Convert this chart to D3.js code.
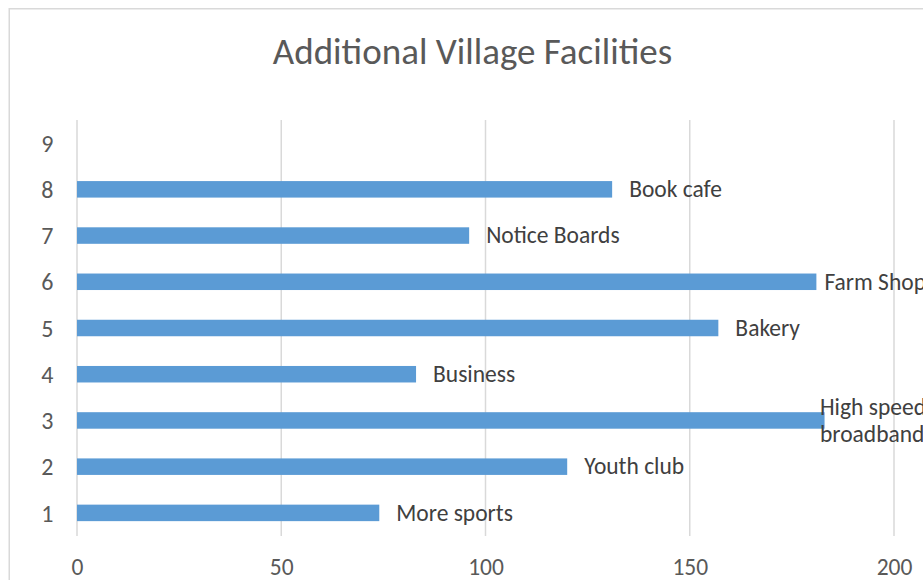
<!DOCTYPE html>
<html>
<head>
<meta charset="utf-8">
<script src="https://cdn.jsdelivr.net/npm/d3@7"></script>
<style>
  html, body { margin: 0; padding: 0; background: #ffffff; }
  svg { display: block; }
  text { font-family: Calibri, Carlito, Lato, "Open Sans", sans-serif; }
</style>
</head>
<body>
<svg id="chart" width="923" height="580"></svg>
<script>
// Category slots on the vertical axis (slot 9 is empty)
const categories = ["1", "2", "3", "4", "5", "6", "7", "8", "9"];
// Number of responses for each facility
const values = [74, 120, 183, 83, 157, 181, 96, 131, null];
// Facility names shown beside the bars
const facilityNames = ["More sports", "Youth club", "High speed broadband", "Business",
                       "Bakery", "Farm Shop", "Notice Boards", "Book cafe", ""];
// Value axis ticks
const xTicks = [0, 50, 100, 150, 200];
const chartTitle = "Additional Village Facilities";

const rows = categories.map((c, i) => ({ cat: c, value: values[i], name: facilityNames[i] }));

const plot = { left: 77, right: 894, top: 120, bottom: 536 };
const chartRight = 926;        // right edge of the chart area (labels are kept inside it)
const labelGap = 17;
const wrapWidth = 180;
const fontStack = "Calibri, Carlito, Lato, 'Open Sans', sans-serif";

const svg = d3.select("#chart");

// chart area frame
svg.append("rect")
  .attr("x", 9.25).attr("y", 8.75)
  .attr("width", 1000).attr("height", 1000)
  .attr("fill", "#ffffff")
  .attr("stroke", "#d9d9d9").attr("stroke-width", 1.5);

const x = d3.scaleLinear().domain([0, 200]).range([plot.left, plot.right]);
const y = d3.scaleBand().domain(categories)
  .range([plot.bottom, plot.top])
  .paddingInner(0.643).paddingOuter(0.3215);

// title
svg.append("text")
  .attr("x", 472.5).attr("y", 64)
  .attr("text-anchor", "middle")
  .attr("fill", "#595959")
  .style("font-size", "37px")
  .text(chartTitle);

// vertical gridlines
svg.append("g")
  .selectAll("line")
  .data(xTicks)
  .join("line")
  .attr("x1", d => x(d)).attr("x2", d => x(d))
  .attr("y1", plot.top).attr("y2", plot.bottom)
  .attr("stroke", "#d9d9d9").attr("stroke-width", 1.5);

// x axis labels
const xAxis = d3.axisBottom(x).tickValues(xTicks).tickSize(0).tickPadding(0);
const gx = svg.append("g")
  .attr("transform", `translate(0,${plot.bottom + 30.5})`)
  .call(xAxis);
gx.select(".domain").remove();
gx.selectAll("text")
  .attr("fill", "#595959")
  .attr("y", 0)
  .attr("dy", "0.36em")
  .style("font-size", "23.5px")
  .style("font-family", fontStack);

// y axis labels
const yAxis = d3.axisLeft(y).tickSize(0).tickPadding(0);
const gy = svg.append("g")
  .attr("transform", `translate(${plot.left - 23.5},0)`)
  .call(yAxis);
gy.select(".domain").remove();
gy.selectAll("text")
  .attr("fill", "#595959")
  .attr("dy", "0.36em")
  .style("font-size", "24px")
  .style("font-family", fontStack);

// bars
const withValue = rows.filter(d => d.value != null);
svg.append("g")
  .selectAll("rect")
  .data(withValue)
  .join("rect")
  .attr("x", x(0))
  .attr("y", d => y(d.cat))
  .attr("width", d => x(d.value) - x(0))
  .attr("height", y.bandwidth())
  .attr("fill", "#5b9bd5");

// data labels (facility names), kept inside the chart area
const lg = svg.append("g");
withValue.forEach(d => {
  const cy = y(d.cat) + y.bandwidth() / 2;
  const t = lg.append("text")
    .attr("fill", "#404040")
    .style("font-size", "23.5px")
    .text(d.name);
  let lines = [d.name];
  if (t.node().getComputedTextLength() > wrapWidth) {
    const words = d.name.split(" ");
    const cut = Math.ceil(words.length / 2);
    lines = [words.slice(0, cut).join(" "), words.slice(cut).join(" ")];
  }
  t.text(null);
  const lineH = 27.3;
  const spans = lines.map(ln => t.append("tspan").text(ln));
  const maxW = d3.max(spans, s => s.node().getComputedTextLength());
  const lx = Math.min(x(d.value) + labelGap, chartRight - maxW);
  spans.forEach((s, i) => {
    s.attr("x", lx)
     .attr("y", cy + (i - (lines.length - 1) / 2) * lineH)
     .attr("dy", "0.33em");
  });
});
</script>
</body>
</html>
